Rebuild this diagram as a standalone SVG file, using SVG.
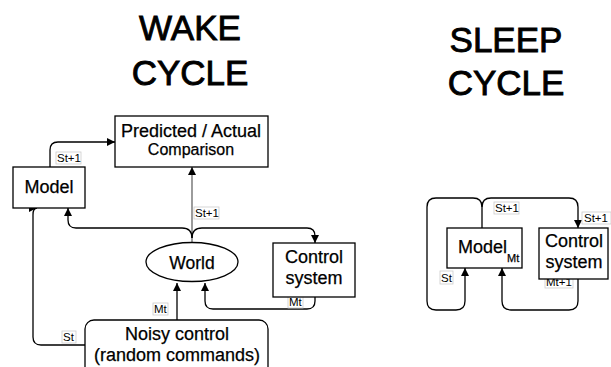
<svg xmlns="http://www.w3.org/2000/svg" width="611" height="367" viewBox="0 0 611 367">
<style>
.t{font-family:"Liberation Sans",Arial,sans-serif;fill:#000;stroke:#000;stroke-width:0.25}
.title{font-size:35px;text-anchor:middle;stroke-width:0.9}
.n{font-size:18px;text-anchor:middle}
.box{fill:#fff;stroke:#000;stroke-width:1.3}
.c{fill:none;stroke:#000;stroke-width:1.3}
.g{fill:none;stroke:#666;stroke-width:1.3}
.lb{fill:#fff;stroke:#ccc;stroke-width:0.8}
.lt{font-family:"Liberation Sans",Arial,sans-serif;font-size:11.5px;fill:#000}
</style>
<defs>
<marker id="ah" markerWidth="8" markerHeight="8" refX="8" refY="4" orient="auto" markerUnits="userSpaceOnUse">
<path d="M0,0 L8,4 L0,8 Z" fill="#000"/>
</marker>
</defs>
<rect width="611" height="367" fill="#fff"/>
<g id="titles">
<text class="t title" x="190" y="40">WAKE</text>
<text class="t title" x="190" y="85">CYCLE</text>
<text class="t title" x="506" y="52">SLEEP</text>
<text class="t title" x="506" y="95">CYCLE</text>
</g>
<g id="connectors">
<path class="c" d="M50,167 V150 Q50,142 58,142 H115" marker-end="url(#ah)"/>
<path class="g" d="M192,243 V167" marker-end="url(#ah)"/>
<path class="c" d="M192,238 Q192,228 182,228 H76 Q68,228 68,220 V208" marker-end="url(#ah)"/>
<path class="c" d="M192,238 Q192,228 202,228 H307 Q315,228 315,236 V243" marker-end="url(#ah)"/>
<path class="c" d="M177,320 V283" marker-end="url(#ah)"/>
<path class="c" d="M315,297 V301 Q315,309 307,309 H213 Q205,309 205,301 V283" marker-end="url(#ah)"/>
<path class="c" d="M85,345 H41 Q33,345 33,337 V215 Q33,208 37,208" marker-end="url(#ah)"/>
<path class="c" d="M482,228 V207 Q482,198 473,198 H436 Q427,198 427,207 V301 Q427,310 436,310 H456 Q465,310 465,301 V268" marker-end="url(#ah)"/>
<path class="c" d="M482,207 Q482,198 491,198 H569 Q578,198 578,207 V228" marker-end="url(#ah)"/>
<path class="c" d="M578,279 V301 Q578,310 569,310 H511 Q502,310 502,301 V268" marker-end="url(#ah)"/>
<rect class="lb" x="56" y="152" width="25" height="12"/><text class="lt" x="57" y="162">St+1</text>
<rect class="lb" x="194" y="207" width="25" height="12"/><text class="lt" x="195" y="217">St+1</text>
<rect class="lb" x="153" y="303" width="15" height="12"/><text class="lt" x="154" y="313">Mt</text>
<rect class="lb" x="288" y="296" width="15" height="12"/><text class="lt" x="289" y="306">Mt</text>
<rect class="lb" x="62" y="331" width="14" height="12"/><text class="lt" x="63" y="341">St</text>
<rect class="lb" x="494" y="202" width="25" height="12"/><text class="lt" x="495" y="212">St+1</text>
<rect class="lb" x="582" y="212" width="29" height="12"/><text class="lt" x="584" y="222">St+1</text>
<rect class="lb" x="440" y="271" width="13" height="13"/><text class="lt" x="441" y="282">St</text>
<rect class="lb" x="545" y="276" width="28" height="12"/><text class="lt" x="546" y="286">Mt+1</text>
</g>
<g id="predicted">
<rect class="box" x="115" y="116" width="153" height="51"/>
<text class="t n" x="191" y="137">Predicted / Actual</text>
<text class="t" x="191" y="155" font-size="16" text-anchor="middle">Comparison</text>
</g>
<g id="model">
<rect class="box" x="13" y="167" width="72" height="41"/>
<text class="t n" x="49" y="193">Model</text>
</g>
<g id="world">
<ellipse class="box" cx="192" cy="262" rx="46" ry="19.5"/>
<text class="t" x="192" y="269" font-size="17.5" text-anchor="middle">World</text>
</g>
<g id="control">
<rect class="box" x="273" y="243" width="82" height="54"/>
<text class="t n" x="314" y="263">Control</text>
<text class="t n" x="314" y="284">system</text>
</g>
<g id="noisy">
<rect class="box" x="85" y="320" width="183" height="60" rx="9"/>
<text class="t n" x="177" y="340">Noisy control</text>
<text class="t n" x="177" y="361">(random commands)</text>
</g>
<g id="sleep-model">
<rect class="box" x="447" y="228" width="75" height="40"/>
<text class="t" x="458" y="253" font-size="18">Model</text>
<text class="t" x="507" y="262" font-size="11" stroke-width="0.15">Mt</text>
</g>
<g id="sleep-control">
<rect class="box" x="539" y="228" width="69" height="51"/>
<text class="t n" x="574" y="247">Control</text>
<text class="t n" x="574" y="268">system</text>
</g>
</svg>
